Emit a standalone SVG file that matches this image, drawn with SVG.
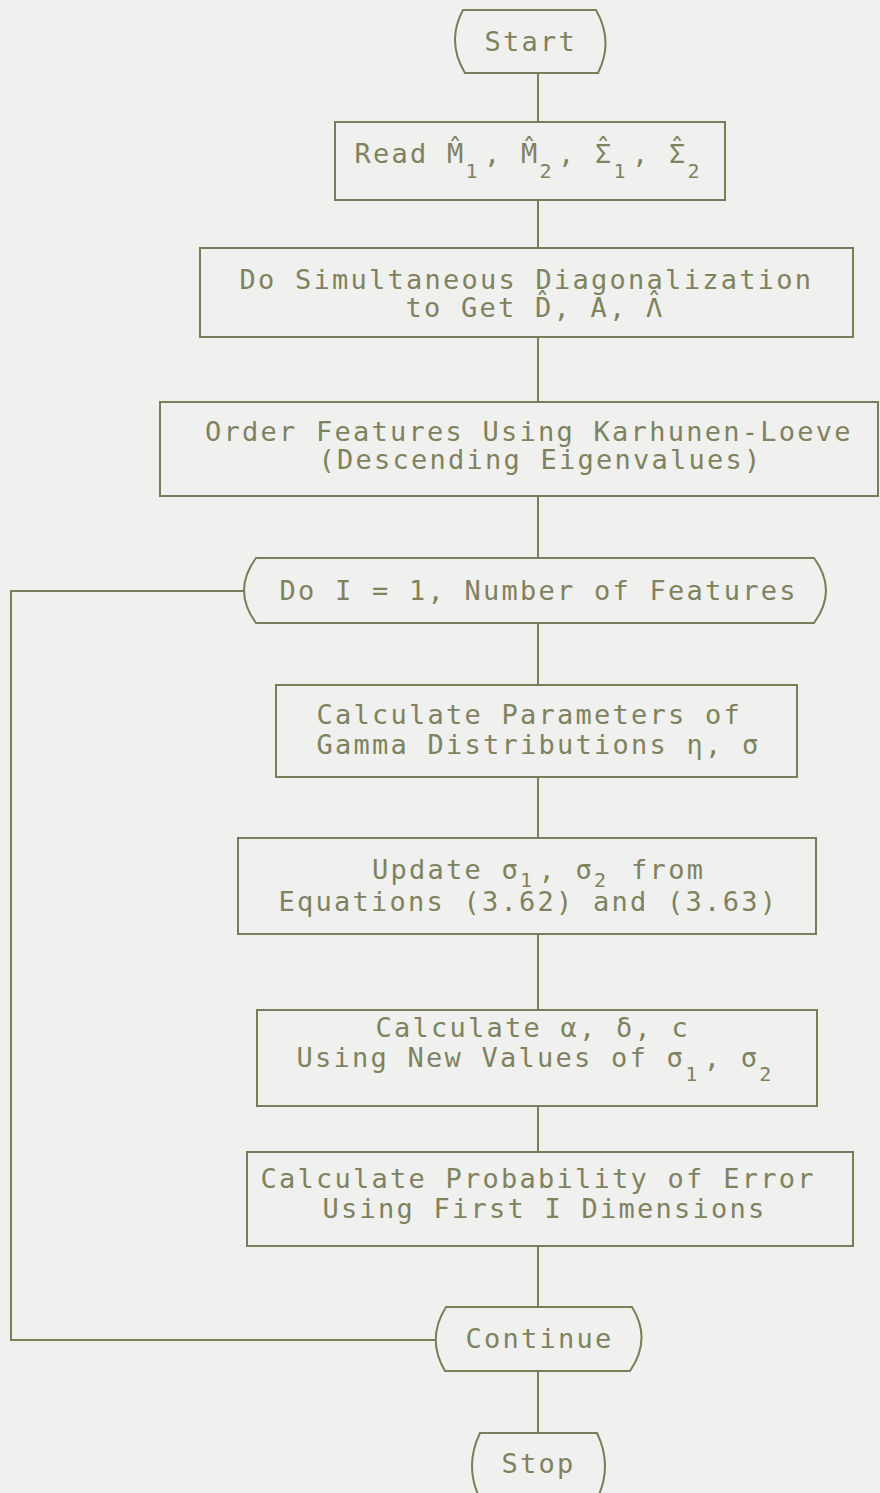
<svg xmlns="http://www.w3.org/2000/svg" width="880" height="1493" viewBox="0 0 880 1493">
<style>
.bg{fill:#f0f0ee}
.n{fill:none;stroke:#7a7d5a;stroke-width:2}
.c{fill:none;stroke:#7a7d5a;stroke-width:2}
.t{font-family:"DejaVu Sans Mono","Liberation Mono",monospace;font-size:27px;letter-spacing:2.25px;fill:#7f825f}
.s{font-size:20px;letter-spacing:6.46px}
</style>
<rect class="bg" x="0" y="0" width="880" height="1493"/>
<g id="connectors">
<path class="c" d="M538,73 V122"/>
<path class="c" d="M538,200 V248"/>
<path class="c" d="M538,337 V402"/>
<path class="c" d="M538,496 V558"/>
<path class="c" d="M538,623 V685"/>
<path class="c" d="M538,777 V838"/>
<path class="c" d="M538,934 V1010"/>
<path class="c" d="M538,1106 V1152"/>
<path class="c" d="M538,1246 V1307"/>
<path class="c" d="M538,1371 V1433"/>
<path class="c" d="M244,591 H11 V1340 H436"/>
</g>
<g id="start">
<path class="n" d="M463,10 H596 Q614,41.5 598,73 H465 Q446,41.5 463,10 Z"/>
<text class="t" x="484.5" y="51">Start</text>
</g>
<g id="read">
<rect class="n" x="335" y="122" width="390" height="78"/>
<text class="t" y="163"><tspan x="354.5">Read</tspan><tspan x="447">M̂</tspan><tspan class="s" x="465.5" dy="15">1</tspan><tspan x="484" dy="-15">,</tspan><tspan x="521">M̂</tspan><tspan class="s" x="539.5" dy="15">2</tspan><tspan x="558" dy="-15">,</tspan><tspan x="595">Σ</tspan><tspan x="595" dy="-5">ˆ</tspan><tspan class="s" x="613.5" dy="20">1</tspan><tspan x="632" dy="-15">,</tspan><tspan x="669">Σ</tspan><tspan x="669" dy="-5">ˆ</tspan><tspan class="s" x="687.5" dy="20">2</tspan></text>
</g>
<g id="diag">
<rect class="n" x="200" y="248" width="653" height="89"/>
<text class="t" x="239.5" y="289">Do Simultaneous Diagonalization</text>
<text class="t" y="317"><tspan x="405.5">to Get</tspan><tspan x="535">D̂</tspan><tspan x="553.5">, A,</tspan><tspan x="646">Λ</tspan><tspan x="646" dy="-5">ˆ</tspan></text>
</g>
<g id="order">
<rect class="n" x="160" y="402" width="718" height="94"/>
<text class="t" x="205" y="441">Order Features Using Karhunen-Loeve</text>
<text class="t" x="318.5" y="469">(Descending Eigenvalues)</text>
</g>
<g id="doloop">
<path class="n" d="M256,558 H814 Q838,590.5 814,623 H256 Q232,590.5 256,558 Z"/>
<text class="t" x="279.5" y="600">Do I = 1, Number of Features</text>
</g>
<g id="gamma">
<rect class="n" x="276" y="685" width="521" height="92"/>
<text class="t" x="316.5" y="724">Calculate Parameters of</text>
<text class="t" x="316.5" y="754">Gamma Distributions η, σ</text>
</g>
<g id="update">
<rect class="n" x="238" y="838" width="578" height="96"/>
<text class="t" x="372" y="879">Update σ<tspan class="s" dy="8">1</tspan><tspan dy="-8">, σ</tspan><tspan class="s" dy="8">2</tspan><tspan dy="-8"> from</tspan></text>
<text class="t" x="278.5" y="911">Equations (3.62) and (3.63)</text>
</g>
<g id="alpha">
<rect class="n" x="257" y="1010" width="560" height="96"/>
<text class="t" x="375.5" y="1037">Calculate α, δ, c</text>
<text class="t" x="296.5" y="1067">Using New Values of σ<tspan class="s" dy="14">1</tspan><tspan dy="-14">, σ</tspan><tspan class="s" dy="14">2</tspan></text>
</g>
<g id="prob">
<rect class="n" x="247" y="1152" width="606" height="94"/>
<text class="t" x="260.5" y="1188">Calculate Probability of Error</text>
<text class="t" x="322.5" y="1218">Using First I Dimensions</text>
</g>
<g id="continue">
<path class="n" d="M446,1307 H632 Q652,1339 630,1371 H445 Q426,1339 446,1307 Z"/>
<text class="t" x="465.5" y="1348">Continue</text>
</g>
<g id="stop">
<path class="n" d="M480,1433 H597 Q613,1466 597,1499 H480 Q464,1466 480,1433 Z"/>
<text class="t" x="501.5" y="1473">Stop</text>
</g>
</svg>
